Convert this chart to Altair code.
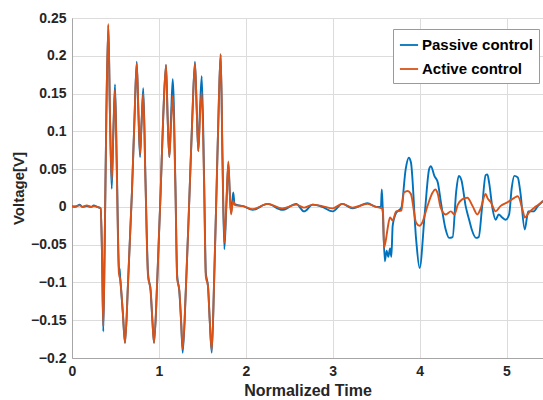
import altair as alt
import pandas as pd

# Passive control trace: normalized time and voltage [V]
passive_t = [
    0.00, 0.04, 0.09, 0.12, 0.17, 0.22, 0.25, 0.29, 0.33,
    0.345, 0.360, 0.375, 0.395, 0.418, 0.437, 0.457, 0.476, 0.495, 0.515,
    0.540, 0.548, 0.556, 0.585, 0.610, 0.645, 0.690, 0.720, 0.745, 0.765,
    0.783, 0.800, 0.820, 0.845, 0.875, 0.905, 0.925, 0.944, 0.980, 1.020,
    1.050, 1.082, 1.100, 1.120, 1.140, 1.159, 1.190, 1.210, 1.235, 1.255,
    1.274, 1.310, 1.350, 1.385, 1.415, 1.435, 1.453, 1.473, 1.493, 1.520,
    1.540, 1.565, 1.585, 1.608, 1.635, 1.665, 1.690, 1.711, 1.732, 1.753,
    1.776, 1.799, 1.815, 1.830, 1.843, 1.856, 1.870, 1.887,
    1.97, 2.08, 2.25, 2.42, 2.58, 2.67, 2.77, 2.88, 3.00, 3.11, 3.23, 3.40,
    3.50, 3.555, 3.565, 3.575,
    3.600, 3.620, 3.640, 3.660, 3.675, 3.690, 3.730, 3.790, 3.840, 3.875,
    3.900, 3.960, 4.000, 4.060, 4.110, 4.130, 4.170, 4.210, 4.240, 4.300,
    4.340, 4.380, 4.420, 4.450, 4.480, 4.530, 4.570, 4.600, 4.650, 4.680,
    4.720, 4.760, 4.780, 4.800, 4.840, 4.875, 4.910, 4.950, 4.990, 5.030,
    5.060, 5.090, 5.130, 5.160, 5.210, 5.250, 5.310, 5.360, 5.420,
]
passive_v = [
    0.001, 0.000, 0.003, 0.000, 0.001, 0.000, 0.002, 0.000, -0.002,
    -0.060, -0.165, -0.060, 0.120, 0.240, 0.120, 0.024, 0.100, 0.162, 0.060,
    -0.080, -0.083, -0.096, -0.140, -0.180, -0.100, 0.020, 0.120, 0.192, 0.120,
    0.066, 0.110, 0.157, 0.040, -0.088, -0.112, -0.150, -0.180, -0.100, 0.020,
    0.120, 0.188, 0.120, 0.066, 0.120, 0.169, 0.030, -0.090, -0.112, -0.150,
    -0.193, -0.110, 0.010, 0.120, 0.192, 0.130, 0.074, 0.130, 0.173, 0.040,
    -0.087, -0.105, -0.150, -0.193, -0.100, 0.030, 0.140, 0.202, 0.060, -0.056,
    0.000, 0.057, 0.020, -0.008, 0.005, 0.019, 0.004, 0.003,
    0.001, -0.004, 0.004, -0.004, 0.004, -0.006, 0.003, 0.000, -0.006, 0.004,
    -0.002, 0.005, 0.000, 0.000, 0.023, 0.000,
    -0.072, -0.058, -0.066, -0.055, -0.066, -0.025, -0.008, -0.001, 0.050, 0.065,
    0.059, -0.043, -0.081, -0.008, 0.050, 0.054, 0.041, 0.032, 0.010, -0.030,
    -0.041, -0.040, 0.019, 0.041, 0.036, 0.001, -0.017, -0.030, -0.041, -0.040,
    0.001, 0.042, 0.043, 0.032, -0.003, -0.017, -0.010, -0.014, -0.017, -0.010,
    0.025, 0.041, 0.039, 0.019, -0.030, -0.006, -0.006, 0.001, 0.008,
]

# Active control trace: normalized time and voltage [V]
active_t = [
    0.00, 0.04, 0.09, 0.12, 0.17, 0.22, 0.25, 0.29, 0.33,
    0.345, 0.360, 0.375, 0.395, 0.418, 0.437, 0.457, 0.476, 0.495, 0.515,
    0.540, 0.556, 0.585, 0.610, 0.645, 0.690, 0.720, 0.745, 0.765,
    0.783, 0.800, 0.820, 0.845, 0.875, 0.905, 0.925, 0.944, 0.980, 1.020,
    1.050, 1.082, 1.100, 1.120, 1.140, 1.159, 1.190, 1.210, 1.235, 1.255,
    1.274, 1.310, 1.350, 1.385, 1.415, 1.435, 1.453, 1.473, 1.493, 1.520,
    1.540, 1.565, 1.585, 1.608, 1.635, 1.665, 1.690, 1.711, 1.732, 1.753,
    1.776, 1.799, 1.815, 1.830, 1.843, 1.856, 1.870, 1.887,
    1.97, 2.08, 2.25, 2.42, 2.58, 2.67, 2.77, 2.88, 3.00, 3.11, 3.23, 3.40,
    3.50, 3.565, 3.580,
    3.590, 3.610, 3.630, 3.660, 3.690, 3.730, 3.790, 3.820, 3.865, 3.900,
    3.960, 4.000, 4.030, 4.090, 4.150, 4.180, 4.210, 4.240, 4.300, 4.360,
    4.400, 4.440, 4.490, 4.550, 4.610, 4.665, 4.700, 4.760, 4.780, 4.820,
    4.875, 4.930, 5.010, 5.090, 5.130, 5.190, 5.210, 5.270, 5.320, 5.370,
    5.420,
]
active_v = [
    0.000, 0.001, 0.002, 0.000, 0.002, 0.000, 0.001, 0.000, -0.002,
    -0.060, -0.158, -0.060, 0.120, 0.242, 0.120, 0.035, 0.100, 0.155, 0.050,
    -0.088, -0.097, -0.140, -0.180, -0.100, 0.020, 0.120, 0.190, 0.125,
    0.070, 0.110, 0.150, 0.035, -0.092, -0.110, -0.150, -0.180, -0.100, 0.020,
    0.120, 0.188, 0.120, 0.066, 0.110, 0.147, 0.025, -0.095, -0.110, -0.150,
    -0.188, -0.110, 0.010, 0.120, 0.190, 0.130, 0.074, 0.120, 0.152, 0.030,
    -0.092, -0.105, -0.150, -0.190, -0.100, 0.030, 0.140, 0.202, 0.065, -0.047,
    0.005, 0.060, 0.020, -0.010, 0.000, 0.008, 0.003, 0.002,
    0.001, -0.003, 0.004, -0.002, 0.003, -0.001, 0.003, 0.001, -0.002, 0.004,
    -0.001, 0.004, 0.000, -0.002, -0.010,
    -0.054, -0.045, -0.030, -0.014, -0.018, -0.006, -0.005, 0.019, 0.021, 0.017,
    -0.021, -0.025, -0.021, 0.001, 0.019, 0.023, 0.017, 0.000, -0.010, -0.006,
    -0.010, 0.003, 0.010, 0.012, 0.001, -0.010, -0.003, 0.017, 0.012, 0.006,
    -0.006, 0.001, 0.006, 0.012, 0.014, -0.006, -0.014, -0.006, -0.001, 0.003,
    0.008,
]

series_names = ["Passive control", "Active control"]
series_colors = ["#0072BD", "#D95319"]
x_ticks = [0, 1, 2, 3, 4, 5]
y_ticks = [-0.2, -0.15, -0.1, -0.05, 0, 0.05, 0.1, 0.15, 0.2, 0.25]

df_passive = pd.DataFrame({"t": passive_t, "v": passive_v, "series": series_names[0]})
df_active = pd.DataFrame({"t": active_t, "v": active_v, "series": series_names[1]})

FONT = "Liberation Sans"

x_enc = alt.X(
    "t:Q",
    scale=alt.Scale(domain=[0, 5.42], nice=False, zero=False),
    axis=alt.Axis(values=x_ticks, format="d", title="Normalized Time"),
)
y_enc = alt.Y(
    "v:Q",
    scale=alt.Scale(domain=[-0.2, 0.25], nice=False, zero=False),
    axis=alt.Axis(values=y_ticks, format="~g", title="Voltage[V]"),
)
color_enc = alt.Color(
    "series:N",
    scale=alt.Scale(domain=series_names, range=series_colors),
    legend=alt.Legend(
        title=None,
        orient="none",
        legendX=321,
        legendY=11,
        symbolType="stroke",
        symbolSize=330,
        symbolStrokeWidth=1.8,
        labelFont=FONT,
        labelFontSize=15,
        labelFontWeight="bold",
        labelColor="#000000",
        strokeColor="#9a9a9a",
        fillColor="#ffffff",
        padding=6,
        rowPadding=6,
        labelOffset=3,
    ),
)

line_passive = alt.Chart(df_passive).mark_line(
    clip=True, strokeWidth=1.9, interpolate="monotone"
).encode(x=x_enc, y=y_enc, color=color_enc)

line_active = alt.Chart(df_active).mark_line(
    clip=True, strokeWidth=1.9, interpolate="monotone"
).encode(x=x_enc, y=y_enc, color=color_enc)

chart = (
    alt.layer(line_passive, line_active)
    .properties(
        width=471,
        height=340,
        autosize=alt.AutoSizeParams(type="none"),
        padding={"left": 72, "top": 18, "right": 0, "bottom": 42},
        background="#ffffff",
    )
    .configure_view(stroke="#a6a6a6", strokeWidth=1)
    .configure_axis(
        labelFont=FONT,
        labelFontSize=14,
        labelFontWeight="bold",
        labelColor="#262626",
        labelFlush=False,
        titleFont=FONT,
        titleFontSize=15,
        titleFontWeight="bold",
        titleColor="#262626",
        gridColor="#dcdcdc",
        gridWidth=1,
        domainColor="#a6a6a6",
        ticks=False,
    )
    .configure_axisX(labelPadding=6, titlePadding=4, titleFontSize=16)
    .configure_axisY(labelPadding=6, titlePadding=4)
)

chart.save("out.html", embed_options={"renderer": "svg", "actions": False})
